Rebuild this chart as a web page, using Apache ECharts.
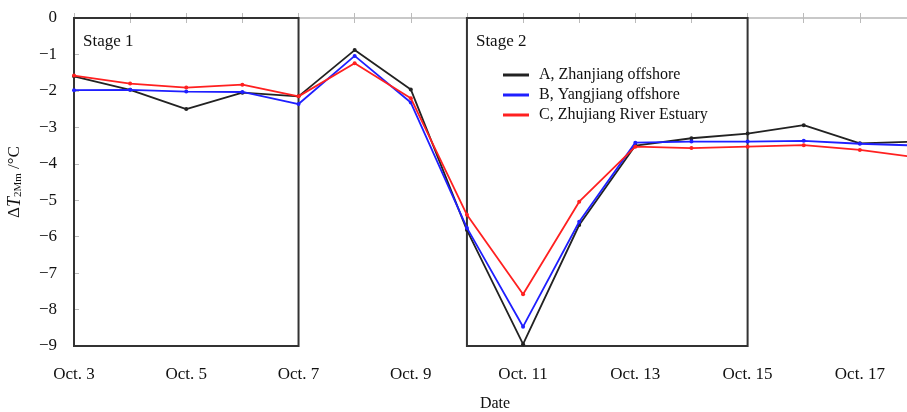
<!DOCTYPE html>
<html><head><meta charset="utf-8">
<script src="https://cdn.jsdelivr.net/npm/echarts@6/dist/echarts.min.js"></script>
<style>html,body{margin:0;padding:0;background:#fff}#c{width:907px;height:412px}</style>
</head><body><div id="c"></div>
<script>
const days = [3,4,5,6,7,8,9,10,11,12,13,14,15,16,17,18];
const seriesNames = ['A, Zhanjiang offshore','B, Yangjiang offshore','C, Zhujiang River Estuary'];
const valuesA = [-1.60,-1.97,-2.50,-2.05,-2.15,-0.88,-1.96,-5.82,-8.95,-5.68,-3.50,-3.30,-3.17,-2.94,-3.44,-3.39];
const valuesB = [-1.98,-1.97,-2.02,-2.03,-2.36,-1.04,-2.32,-5.76,-8.47,-5.59,-3.42,-3.39,-3.39,-3.37,-3.45,-3.50];
const valuesC = [-1.58,-1.80,-1.91,-1.83,-2.15,-1.24,-2.20,-5.40,-7.58,-5.04,-3.53,-3.57,-3.53,-3.49,-3.62,-3.82];
const colors = ['#222222','#1f1fff','#ff2020'];
const stages = [{name:'Stage 1', from:3, to:7},{name:'Stage 2', from:10, to:15}];
const yTicks = [0,-1,-2,-3,-4,-5,-6,-7,-8,-9];

const font = '"Liberation Serif","Times New Roman",serif';
const chart = echarts.init(document.getElementById('c'));
function mk(vals){ return days.map((d,i)=>[d, vals[i]]); }
const allVals = [valuesA, valuesB, valuesC];
const series = allVals.map((v,i)=>({
  name: seriesNames[i], type:'line', data: mk(v),
  symbol:'circle', symbolSize:4, showSymbol:true,
  lineStyle:{color:colors[i], width:1.8}, itemStyle:{color:colors[i]},
  z: 3+i, clip:true
}));
series[0].markArea = {
  silent:true,
  itemStyle:{color:'rgba(0,0,0,0)', borderColor:'#333', borderWidth:2},
  label:{show:true, position:'insideTopLeft', color:'#111', fontFamily:font, fontSize:17, offset:[5,11]},
  data: stages.map(s=>[{name:s.name, xAxis:s.from, yAxis:0},{xAxis:s.to, yAxis:yTicks[yTicks.length-1]}])
};
chart.setOption({
  animation:false,
  textStyle:{fontFamily:font},
  grid:{left:74, top:18, right:-9, bottom:66, outerBoundsMode:'none', containLabel:false},
  legend:{
    data: seriesNames.map(n=>({name:n, icon:'rect'})),
    orient:'vertical', left:498, top:62, itemWidth:26, itemHeight:3, itemGap:4,
    textStyle:{fontFamily:font, fontSize:16, color:'#111', padding:[0,0,0,5]}
  },
  xAxis:[{
    type:'value', min:3, max:18, interval:1, position:'bottom',
    name:'Date', nameLocation:'middle', nameGap:50,
    nameTextStyle:{fontFamily:font, fontSize:16, color:'#111'},
    axisLine:{show:true, lineStyle:{color:'#c8c8c8', width:2}},
    axisTick:{show:true, inside:true, length:5, lineStyle:{color:'#bbb'}},
    axisLabel:{fontFamily:font, fontSize:17, color:'#111', margin:20,
      formatter:v=> (v%2===1 && v<18) ? 'Oct. '+v : ''},
    splitLine:{show:false}
  },{
    type:'value', min:3, max:18, interval:1, position:'top',
    axisLine:{show:true, lineStyle:{color:'#c8c8c8', width:1.5}},
    axisTick:{show:true, inside:true, length:5, lineStyle:{color:'#bbb'}},
    axisLabel:{show:false}, splitLine:{show:false}
  }],
  yAxis:{
    type:'value', min:-9, max:0, interval:1,
    name:'{d|Δ}{t|T}{s|2Mm}{d| /°C}', nameLocation:'middle', nameGap:50, nameRotate:90,
    nameTextStyle:{rich:{
      d:{fontFamily:font, fontSize:17, color:'#111'},
      t:{fontFamily:font, fontSize:18, fontStyle:'italic', color:'#111'},
      s:{fontFamily:font, fontSize:11, color:'#111', verticalAlign:'bottom', padding:[6,0,0,0]}
    }},
    axisLine:{show:true, lineStyle:{color:'#9a9a9a', width:2}},
    axisTick:{show:true, inside:true, length:5, lineStyle:{color:'#bbb'}},
    axisLabel:{fontFamily:font, fontSize:17, color:'#111', margin:17,
      formatter:v=> v===0 ? '0' : '\u2212'+Math.abs(v)},
    splitLine:{show:false}
  },
  series: series
});
</script></body></html>
